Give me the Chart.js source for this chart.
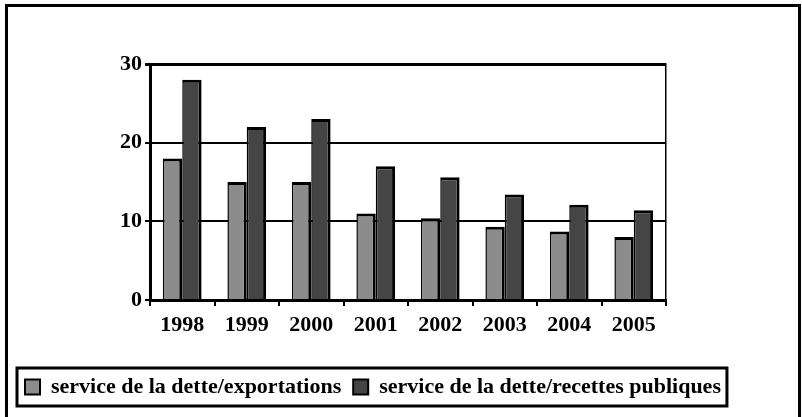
<!DOCTYPE html>
<html>
<head>
<meta charset="utf-8">
<script src="https://cdn.jsdelivr.net/npm/chart.js@4.4.1/dist/chart.umd.min.js"></script>
<style>
html, body { margin: 0; padding: 0; background: #fff; }
canvas { display: block; }
</style>
</head>
<body>
<canvas id="chart" width="802" height="417"></canvas>
<script>
// categories
var years = ["1998", "1999", "2000", "2001", "2002", "2003", "2004", "2005"];
// service de la dette / exportations (%)
var exportRatio = [18, 15, 15, 11, 10.4, 9.3, 8.7, 8.0];
// service de la dette / recettes publiques (%)
var revenueRatio = [28, 22, 23, 17, 15.6, 13.4, 12.1, 11.4];
var yTicks = [0, 10, 20, 30];

var serif = "'Liberation Serif', 'Times New Roman', serif";

// white page + outer frame
var framePlugin = {
    id: "frame",
    beforeDraw: function(chart){
        let ctx = chart.ctx;
        ctx.save();
        ctx.fillStyle = "#fff";
        ctx.fillRect(0, 0, chart.width, chart.height);
        ctx.strokeStyle = "#000";
        ctx.lineWidth = 3;
        ctx.strokeRect(6.5, 5.5, 793, 440);
        ctx.restore();
    }
};

// box round the legend
var legendBoxPlugin = {
    id: "legendBox",
    afterDraw: function(chart){
        let hb = chart.legend.legendHitBoxes;
        if (!hb || !hb.length) return;
        let left = Math.min.apply(null, hb.map(function(h){ return h.left; })) - 8;
        let right = Math.max.apply(null, hb.map(function(h){ return h.left + h.width; })) + 6;
        let top = hb[0].top - 8;
        let bottom = hb[0].top + hb[0].height + 8;
        let ctx = chart.ctx;
        ctx.save();
        ctx.strokeStyle = "#000";
        ctx.lineWidth = 3;
        ctx.strokeRect(left, top, right - left, bottom - top);
        ctx.restore();
    }
};

var barStyle = {
    borderColor: "#000",
    borderWidth: {top: 3, right: 3, left: 1.5, bottom: 0},
    borderSkipped: "start",
    categoryPercentage: 0.6,
    barPercentage: 1.0
};

new Chart(document.getElementById("chart"), {
    type: "bar",
    data: {
        labels: years,
        datasets: [
            Object.assign({
                label: "service de la dette/exportations",
                data: exportRatio,
                backgroundColor: "#8c8c8c"
            }, barStyle),
            Object.assign({
                label: "service de la dette/recettes publiques",
                data: revenueRatio,
                backgroundColor: "#454545"
            }, barStyle)
        ]
    },
    options: {
        responsive: false,
        animation: false,
        devicePixelRatio: 1,
        layout: {
            padding: {left: 13, right: 10, top: 64, bottom: 9}
        },
        plugins: {
            tooltip: {enabled: false},
            legend: {
                position: "bottom",
                align: "start",
                labels: {
                    color: "#000",
                    boxWidth: 15,
                    boxHeight: 15,
                    padding: 12,
                    font: {family: serif, size: 22, weight: "bold"},
                    generateLabels: function(chart){
                        return chart.data.datasets.map(function(ds, i){
                            return {
                                text: ds.label,
                                fillStyle: ds.backgroundColor,
                                strokeStyle: "#000",
                                lineWidth: 2,
                                datasetIndex: i
                            };
                        });
                    }
                }
            }
        },
        scales: {
            x: {
                offset: true,
                grid: {
                    offset: true,
                    drawOnChartArea: false,
                    drawTicks: true,
                    tickLength: 6,
                    color: "#000",
                    lineWidth: 2
                },
                border: {color: "#000", width: 3},
                ticks: {
                    color: "#000",
                    padding: 6,
                    font: {family: serif, size: 22, weight: "bold"}
                },
                afterFit: function(scale){ scale.height = 64; }
            },
            y: {
                min: 0,
                max: 30,
                afterBuildTicks: function(scale){
                    scale.ticks = yTicks.map(function(v){ return {value: v}; });
                },
                grid: {
                    color: "#000",
                    lineWidth: function(ctx){ return ctx.tick && ctx.tick.value === 30 ? 3 : 2; },
                    drawTicks: true,
                    tickLength: 5
                },
                border: {color: "#000", width: 3},
                ticks: {
                    color: "#000",
                    padding: 3,
                    font: {family: serif, size: 22, weight: "bold"}
                },
                afterFit: function(scale){ scale.width = 137; }
            },
            yRight: {
                position: "right",
                min: 0,
                max: 30,
                grid: {display: false},
                ticks: {display: false},
                border: {color: "#000", width: 1.5},
                afterFit: function(scale){ scale.width = 126; }
            }
        }
    },
    plugins: [framePlugin, legendBoxPlugin]
});
</script>
</body>
</html>
